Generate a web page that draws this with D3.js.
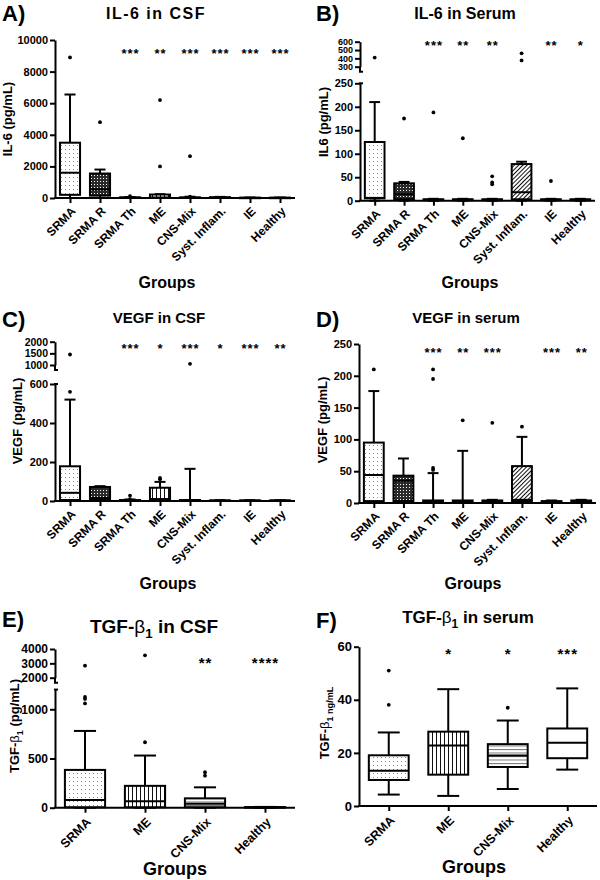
<!DOCTYPE html>
<html><head><meta charset="utf-8">
<script src="https://cdn.jsdelivr.net/npm/d3@7"></script>
<style>
body{margin:0;background:#fff}
svg{display:block}
text{font-family:"Liberation Sans",Arial,sans-serif;font-weight:bold;fill:#000}
</style>
</head><body><script>
// ---------------- DATA ----------------
const groups8 = ["SRMA","SRMA R","SRMA Th","ME","CNS-Mix","Syst. Inflam.","IE","Healthy"];
const groups4 = ["SRMA","ME","CNS-Mix","Healthy"];

// A) IL-6 in CSF (pg/mL)
const il6CsfMin = [0,0,0,0,0,0,0,0];
const il6CsfQ1  = [200,150,5,5,5,5,5,5];
const il6CsfMed = [1600,550,20,30,15,20,10,10];
const il6CsfQ3  = [3500,1550,40,220,40,50,20,20];
const il6CsfMax = [6550,1800,60,240,80,70,30,30];
const il6CsfOut = [[8900],[4800],[110],[6200,2000],[2650,90],[],[],[]];
const il6CsfSig = ["","","***","**","***","***","***","***"];
const il6CsfTicks = [0,2000,4000,6000,8000,10000];

// B) IL-6 in Serum (pg/mL)
const il6SerMin = [0,0,0,0,0,0,0,0];
const il6SerQ1  = [5,3,1,1,1,3,1,1];
const il6SerMed = [6,14,2,2,2,18,2,2];
const il6SerQ3  = [125,37,3,3,3,78,3,3];
const il6SerMax = [210,40,4,4,4,83,4,4];
const il6SerOut = [[410],[175],[188],[133],[52,39,35],[460,375],[42],[]];
const il6SerSig = ["","","***","**","**","","**","*"];
const il6SerTicksLow = [0,50,100,150,200,250];
const il6SerTicksHigh = [300,400,500,600];

// C) VEGF in CSF (pg/mL)
const vegfCsfMin = [0,0,0,0,0,0,0,0];
const vegfCsfQ1  = [5,5,1,5,1,1,1,1];
const vegfCsfMed = [42,15,3,10,3,2,2,2];
const vegfCsfQ3  = [178,72,5,68,5,3,3,3];
const vegfCsfMax = [520,76,8,98,165,4,4,4];
const vegfCsfOut = [[560,1450],[],[28,10],[112,118],[1050],[],[],[]];
const vegfCsfSig = ["","","***","*","***","*","***","**"];
const vegfCsfTicksLow = [0,200,400,600];
const vegfCsfTicksHigh = [1000,1500,2000];

// D) VEGF in serum (pg/mL)
const vegfSerMin = [0,0,0,0,0,0,0,0];
const vegfSerQ1  = [3,3,1,1,1,3,1,1];
const vegfSerMed = [44,35,2,2,2,5,2,2];
const vegfSerQ3  = [95,43,4,4,4,58,3,4];
const vegfSerMax = [176,70,47,82,5,104,4,5];
const vegfSerOut = [[210],[],[210,195,55,52],[130],[126],[120],[],[]];
const vegfSerSig = ["","","***","**","***","","***","**"];
const vegfSerTicks = [0,50,100,150,200,250];

// E) TGF-b1 in CSF (pg/mL)
const tgfCsfMin = [0,0,0,0];
const tgfCsfQ1  = [5,5,5,2];
const tgfCsfMed = [78,65,40,4];
const tgfCsfQ3  = [384,222,95,6];
const tgfCsfMax = [780,530,207,8];
const tgfCsfOut = [[1125,1105,1060,2840],[665,3560],[325,360],[]];
const tgfCsfSig = ["","","**","****"];
const tgfCsfTicksLow = [0,500,1000];
const tgfCsfTicksHigh = [2000,3000,4000];

// F) TGF-b1 in serum (ng/mL)
const tgfSerMin = [4.3,3.8,6.4,13.7];
const tgfSerQ1  = [9.8,11.8,14.7,18.0];
const tgfSerMed = [13.3,22.8,19.0,23.8];
const tgfSerQ3  = [19.1,28.0,23.3,29.2];
const tgfSerMax = [27.7,44.0,32.2,44.3];
const tgfSerOut = [[38.1,51],[],[37],[]];
const tgfSerSig = ["","*","*","***"];
const tgfSerTicks = [0,20,40,60];

// ---------------- DRAW ----------------
const svg = d3.select("body").append("svg").attr("width",600).attr("height",880);
svg.append("rect").attr("width",600).attr("height",880).attr("fill","#fff");
const defs = svg.append("defs");
function pat(id,w,h,bg){const p=defs.append("pattern").attr("id",id).attr("width",w).attr("height",h).attr("patternUnits","userSpaceOnUse");p.append("rect").attr("width",w).attr("height",h).attr("fill",bg);return p;}
let p = pat("pDots",4,4,"#fff"); p.append("rect").attr("x",1).attr("y",1).attr("width",1).attr("height",1).attr("fill","#8a8a8a");
p = pat("pCheck",3,3,"#2a2a2a"); p.append("rect").attr("x",1).attr("y",1).attr("width",1).attr("height",1).attr("fill","#fff");
p = pat("pV",4,4,"#fff"); p.append("rect").attr("x",0).attr("y",0).attr("width",1).attr("height",4).attr("fill","#111");
p = pat("pH",4,3.5,"#fff"); p.append("rect").attr("x",0).attr("y",0).attr("width",4).attr("height",1).attr("fill","#777");
p = pat("pDiag",3,3,"#fff").attr("patternTransform","rotate(45)"); p.append("rect").attr("x",0).attr("y",0).attr("width",1).attr("height",3).attr("fill","#111");
const fillFor = {"SRMA":"url(#pDots)","SRMA R":"url(#pCheck)","SRMA Th":"url(#pDots)","ME":"url(#pV)","CNS-Mix":"url(#pH)","Syst. Inflam.":"url(#pDiag)","IE":"#fff","Healthy":"#fff"};

function rich(sel, parts, size){
  parts.forEach(pt=>{
    const t = sel.append("tspan").text(pt.t);
    if(pt.normal) t.style("font-weight","normal");
    if(pt.sub){ t.attr("font-size",size*0.7).attr("dy",size*0.28); }
    if(pt.up){ t.attr("dy",-size*0.28); }
  });
}

function drawPanel(c){
  const g = svg.append("g");
  const x = d3.scalePoint().domain(c.cats).range([c.x0,c.x1]).padding(0.5);
  const bw = x.step()*0.67, capW = bw*0.55;
  const segs = c.segs.map(s=>({...s, sc:d3.scaleLinear().domain(s.domain).range(s.range)}));
  const y = v => { for(const s of segs){ if(v<=s.domain[1]) return s.sc(v);} return segs[segs.length-1].sc(v); };
  const axisY = segs[0].range[0];

  // Y axis segments
  segs.forEach((s,i)=>{
    const ax = g.append("g").attr("transform",`translate(${c.x0},0)`)
      .call(d3.axisLeft(s.sc).tickValues(s.ticks).tickSize(5).tickSizeOuter(0).tickFormat(d3.format("d")));
    ax.selectAll("path,line").attr("stroke","#000").attr("stroke-width",2);
    ax.selectAll("text").attr("font-size",s.font||c.tickFont).attr("x",-7).attr("fill","#000");
    if(segs.length>1){
      if(i===0){
        g.append("line").attr("x1",c.x0-1).attr("x2",c.x0+3).attr("y1",s.range[1]).attr("y2",s.range[1]).attr("stroke","#000").attr("stroke-width",2);
      } else {
        g.append("path").attr("d",`M${c.x0},${s.range[0]}v5h3`).attr("fill","none").attr("stroke","#000").attr("stroke-width",2);
      }
    }
  });
  // X axis
  const xa = g.append("g").attr("transform",`translate(0,${axisY})`)
    .call(d3.axisBottom(x).tickSize(5).tickSizeOuter(0));
  xa.selectAll("path,line").attr("stroke","#000").attr("stroke-width",2);
  xa.selectAll("path").attr("d",`M${c.x0-1},0H${c.x1}`);
  xa.selectAll("text").remove();
  xa.selectAll(".tick").append("text")
    .attr("transform",`translate(${c.lblDx},${c.lblDy}) rotate(-45)`)
    .attr("text-anchor","end").attr("dy","0.35em").attr("font-size",c.catFont)
    .text(d=>d);

  // boxes
  c.cats.forEach((cat,i)=>{
    const cx = x(cat);
    const bx = g.append("g");
    const wl = (a,b)=>{
      bx.append("line").attr("x1",cx).attr("x2",cx).attr("y1",y(a)).attr("y2",y(b)).attr("stroke","#000").attr("stroke-width",2);
      bx.append("line").attr("x1",cx-capW/2).attr("x2",cx+capW/2).attr("y1",y(b)).attr("y2",y(b)).attr("stroke","#000").attr("stroke-width",2);
    };
    wl(c.q3[i],c.max[i]);
    wl(c.q1[i],c.min[i]);
    bx.append("rect").attr("x",cx-bw/2).attr("y",y(c.q3[i])).attr("width",bw)
      .attr("height",Math.max(0.5,y(c.q1[i])-y(c.q3[i])))
      .attr("fill",fillFor[cat]).attr("stroke","#000").attr("stroke-width",2);
    bx.append("line").attr("x1",cx-bw/2).attr("x2",cx+bw/2).attr("y1",y(c.med[i])).attr("y2",y(c.med[i])).attr("stroke","#000").attr("stroke-width",2);
    c.out[i].forEach(v=>{
      bx.append("circle").attr("cx",cx).attr("cy",y(v)).attr("r",1.9).attr("fill","#000");
    });
    if(c.sig[i]){
      g.append("text").attr("x",cx+0.5).attr("y",c.sigY+c.sigFont*0.58).attr("text-anchor","middle")
        .attr("font-size",c.sigFont).attr("letter-spacing",1).text(c.sig[i]);
    }
  });

  // titles and labels
  const tt = g.append("text").attr("x",c.titleX).attr("y",c.titleY).attr("text-anchor","middle")
    .attr("font-size",c.titleFont).attr("letter-spacing",c.titleLS||0);
  rich(tt,c.title,c.titleFont);
  g.append("text").attr("x",c.letterX).attr("y",c.letterY).attr("font-size",22).text(c.letter);
  const yl = g.append("text").attr("transform",`translate(${c.ylabX},${c.ylabY}) rotate(-90)`).attr("text-anchor","middle").attr("font-size",c.ylabFont);
  rich(yl,c.ylab,c.ylabFont);
  g.append("text").attr("x",c.grpX).attr("y",c.grpY).attr("text-anchor","middle").attr("font-size",c.grpFont).text("Groups");
}

const common8 = {cats:groups8, tickFont:11, catFont:12, lblDx:3, lblDy:11, sigFont:13, titleFont:16, ylabFont:13, grpFont:16};
const common4 = {cats:groups4, tickFont:12, catFont:12.5, lblDx:3, lblDy:12, sigFont:15, ylabFont:13, grpFont:18};

drawPanel({...common8, x0:55, x1:295,
  segs:[{domain:[0,10000],range:[198,40],ticks:il6CsfTicks}],
  min:il6CsfMin,q1:il6CsfQ1,med:il6CsfMed,q3:il6CsfQ3,max:il6CsfMax,out:il6CsfOut,sig:il6CsfSig,
  sigY:50.7, title:[{t:"IL-6 in CSF"}], titleLS:1.5, titleX:156, titleY:18.5, letter:"A)", letterX:2, letterY:21,
  ylab:[{t:"IL-6 (pg/mL)"}], ylabX:12, ylabY:119, grpX:167, grpY:287.5});

drawPanel({...common8, x0:360, x1:595,
  segs:[{domain:[0,250],range:[200.7,83.3],ticks:il6SerTicksLow},{domain:[300,600],range:[66.7,41.7],ticks:il6SerTicksHigh,font:9}],
  min:il6SerMin,q1:il6SerQ1,med:il6SerMed,q3:il6SerQ3,max:il6SerMax,out:il6SerOut,sig:il6SerSig,
  sigY:42.7, title:[{t:"IL-6 in Serum"}], titleX:465, titleY:18.5, letter:"B)", letterX:316, letterY:21,
  ylab:[{t:"IL6 (pg/mL)"}], ylabX:328, ylabY:122, grpX:470, grpY:287.5});

drawPanel({...common8, x0:55, x1:295, titleFont:15,
  segs:[{domain:[0,600],range:[501,384],ticks:vegfCsfTicksLow},{domain:[1000,2000],range:[365,341.7],ticks:vegfCsfTicksHigh,font:10.5}],
  min:vegfCsfMin,q1:vegfCsfQ1,med:vegfCsfMed,q3:vegfCsfQ3,max:vegfCsfMax,out:vegfCsfOut,sig:vegfCsfSig,
  sigY:345, title:[{t:"VEGF in CSF"}], titleX:159, titleY:323, letter:"C)", letterX:2, letterY:327,
  ylab:[{t:"VEGF (pg/mL)"}], ylabX:22, ylabY:421, grpX:168, grpY:588.5});

drawPanel({...common8, x0:359, x1:596, titleFont:15,
  segs:[{domain:[0,250],range:[503,344],ticks:vegfSerTicks}],
  min:vegfSerMin,q1:vegfSerQ1,med:vegfSerMed,q3:vegfSerQ3,max:vegfSerMax,out:vegfSerOut,sig:vegfSerSig,
  sigY:349, title:[{t:"VEGF in serum"}], titleX:466, titleY:323, letter:"D)", letterX:316, letterY:327,
  ylab:[{t:"VEGF (pg/mL)"}], ylabX:327, ylabY:420, grpX:473, grpY:588.5});

drawPanel({...common4, x0:55, x1:295,
  segs:[{domain:[0,1200],range:[807.7,689.6],ticks:tgfCsfTicksLow},{domain:[2000,4000],range:[677.7,649],ticks:tgfCsfTicksHigh}],
  min:tgfCsfMin,q1:tgfCsfQ1,med:tgfCsfMed,q3:tgfCsfQ3,max:tgfCsfMax,out:tgfCsfOut,sig:tgfCsfSig,
  sigY:659.3, titleFont:19, title:[{t:"TGF-"},{t:"β",normal:true},{t:"1",sub:true},{t:"  in CSF",up:true}], titleX:154, titleY:633, letter:"E)", letterX:2, letterY:627,
  ylab:[{t:"TGF-"},{t:"β",normal:true},{t:"1",sub:true},{t:" (pg/mL)",up:true}], ylabX:19, ylabY:726, grpX:175, grpY:875});

drawPanel({...common4, x0:359, x1:597, tickFont:13,
  segs:[{domain:[0,60],range:[806,646.7],ticks:tgfSerTicks}],
  min:tgfSerMin,q1:tgfSerQ1,med:tgfSerMed,q3:tgfSerQ3,max:tgfSerMax,out:tgfSerOut,sig:tgfSerSig,
  sigY:650.7, titleFont:17, title:[{t:"TGF-"},{t:"β",normal:true},{t:"1",sub:true},{t:" in serum",up:true}], titleX:468, titleY:623, letter:"F)", letterX:316, letterY:628,
  ylab:[{t:"TGF-"},{t:"β",normal:true},{t:"1 ng/mL",sub:true}], ylabX:329, ylabY:723, grpX:474, grpY:873});
</script></body></html>
